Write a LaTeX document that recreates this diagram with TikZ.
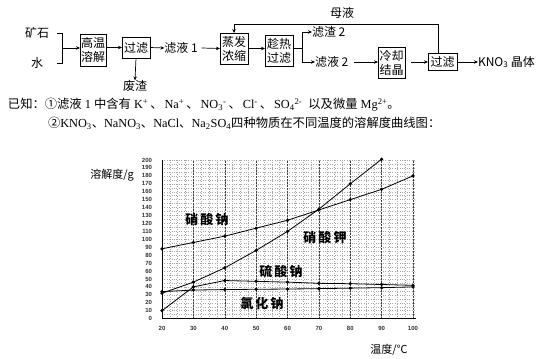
\documentclass[tikz,border=0pt]{standalone}
\usepackage{fontspec}
\setmainfont{Liberation Serif}
\setsansfont{Liberation Sans}
\newfontfamily\cjk{Noto Sans CJK SC}
\usetikzlibrary{arrows.meta}
\newcommand{\dun}{\hspace{2pt}{\cjk 、}\hspace{2pt}}
\begin{document}
\begin{tikzpicture}[x=1pt,y=-1pt,
  every node/.style={inner sep=0pt, outer sep=0pt},
  flow/.style={font=\cjk\fontsize{12}{14}\selectfont},
  box/.style={draw, line width=0.8pt, flow, align=center, minimum width=28pt, minimum height=31pt},
  arr/.style={-{Stealth[length=4pt,width=3.5pt]}, line width=0.7pt},
  ln/.style={line width=0.7pt},
  note/.style={font=\fontsize{12.3}{14}\selectfont, anchor=west},
  gridh/.style={gray!70, dotted, line width=0.4pt},
  gridv/.style={gray!70, dotted, line width=0.4pt},
  gridm/.style={black!75, dashed, dash pattern=on 1.5pt off 1.5pt, line width=0.4pt},
  tick/.style={font=\sffamily\bfseries\fontsize{6}{7}\selectfont, text=black!80},
  curve/.style={line width=0.8pt, mark=*, mark size=1.2pt},
  clabel/.style={font=\cjk\bfseries\fontsize{13}{14}\selectfont},
  axlabel/.style={font=\cjk\fontsize{11}{13}\selectfont}]
\useasboundingbox (0,0) rectangle (544,359);

% ---------- flow chart ----------
\node[flow] (ore) at (37,33) {矿石};
\node[flow] (water) at (37,63) {水};
\coordinate (bt) at (62,33);
\coordinate (bb) at (62,63);
\coordinate (br) at (62,48);
\draw[ln] (ore.east -| 57,0) -- (bt) -- (bb) -- (water.east -| 57,0);
\node[box, minimum width=26pt, minimum height=32pt] (b1) at (93,50) {高温\\溶解};
\draw[arr] (br) -- (b1.west |- br);
\node[box, minimum height=21pt] (b2) at (136,47.5) {过滤};
\draw[arr] (b1.east |- b2) -- (b2.west);
\node[flow] (waste) at (135,86) {废渣};
\draw[arr] (b2.south) -- (waste.north);
\node[flow] (l1) at (181,48) {滤液 1};
\draw[arr] (b2.east) -- (l1.west);
\node[box] (b3) at (234,48.5) {蒸发\\浓缩};
\draw[arr] (l1.east) ++(4,0) -- (b3.west);
\node[box] (b4) at (279,50.5) {趁热\\过滤};
\draw[arr] (b3.east) -- (b4.west |- b3.east);
\coordinate (sp) at (302,48);
\coordinate (spt) at (302,32);
\coordinate (spb) at (302,62);
\node[flow, anchor=west] (r2) at (312,32) {滤渣 2};
\node[flow, anchor=west] (l2) at (315,62) {滤液 2};
\draw[ln] (b4.east |- sp) -- (sp);
\draw[ln] (spt) -- (spb);
\draw[arr] (spt) -- (r2.west);
\draw[arr] (spb) -- (l2.west);
\node[box, minimum width=27pt] (b5) at (391.5,62.5) {冷却\\结晶};
\draw[arr] (l2.east) ++(6,0) -- (b5.west |- l2);
\node[box, minimum width=29pt, minimum height=17pt] (b6) at (442.5,62) {过滤};
\draw[arr] (b5.east |- b6) ++(6,0) -- (b6.west);
\node[flow, anchor=west] (prod) at (478,62) {KNO\textsubscript{3} 晶体};
\draw[arr] (b6.east) -- (prod.west);
\coordinate (ml) at (438,24);
\draw[arr] (b6.north -| ml) -- (ml) -- (b3.north |- ml) -- (b3.north);
\node[flow] (mother) at (342,13) {母液};

% ---------- notes ----------
\node[note] (n1) at (8,105) {{\cjk 已知：①滤液} 1 {\cjk 中含有} K\textsuperscript{+}\dun Na\textsuperscript{+}\dun NO\textsubscript{3}\textsuperscript{-}\dun Cl\textsuperscript{-}\dun SO\textsubscript{4}\textsuperscript{2-}\hspace{3pt} {\cjk 以及微量} Mg\textsuperscript{2+}{\cjk 。}};
\node[note] (n2) at (48,123) {{\cjk ②}KNO\textsubscript{3}{\cjk 、}NaNO\textsubscript{3}{\cjk 、}NaCl{\cjk 、}Na\textsubscript{2}SO\textsubscript{4}{\cjk 四种物质在不同温度的溶解度曲线图：}};

% ---------- chart ----------
\begin{scope}[shift={(99.25,318.6)}, x=3.1375pt, y=0.793pt]
  \foreach \v in {5,10,...,200} \draw[gridh] (20,\v) -- (101,\v);
  \foreach \t in {22.5,25,...,100} \draw[gridv] (\t,0) -- (\t,200);
  \foreach \t in {30,40,...,100} \draw[gridm] (\t,0) -- (\t,200);
  \draw[ln] (20,200) -- (20,0) -- (101,0);
  \foreach \v in {0,10,...,200} \node[tick, anchor=east] (yt\v) at ([xshift=-10pt]20,\v) {\v};
  \foreach \t in {20,30,...,100} \node[tick] (xt\t) at ([yshift=-9.5pt]\t,0) {\t};
  % NaNO3
  \draw[curve] plot coordinates {(20,88) (30,96) (40,104) (50,114) (60,124) (70,137) (80,150) (90,163) (100,180)};
  % KNO3
  \draw[curve] plot coordinates {(20,32) (30,46) (40,64) (50,86) (60,110) (70,138) (80,170) (90,201)};
  % Na2SO4
  \draw[curve] plot coordinates {(20,10) (30,40) (40,48) (50,47) (60,46) (70,44.5) (80,44) (90,43) (100,42)};
  % NaCl
  \draw[curve] plot coordinates {(20,34) (30,36) (40,36.6) (50,37) (60,37.3) (70,37.8) (80,38.4) (90,39) (100,40)};
\end{scope}
\node[clabel] (lNaNO3) at (207,220) {硝\,酸\,钠};
\node[clabel] (lKNO3) at (325,238) {硝\,酸\,钾};
\node[clabel] (lNa2SO4) at (281,272) {硫\,酸\,钠};
\node[clabel] (lNaCl) at (262,303) {氯\,化\,钠};
\node[axlabel] (ylab) at (112,175) {溶解度/g};
\node[axlabel] (xlab) at (389,350) {温度/℃};
\end{tikzpicture}
\end{document}
